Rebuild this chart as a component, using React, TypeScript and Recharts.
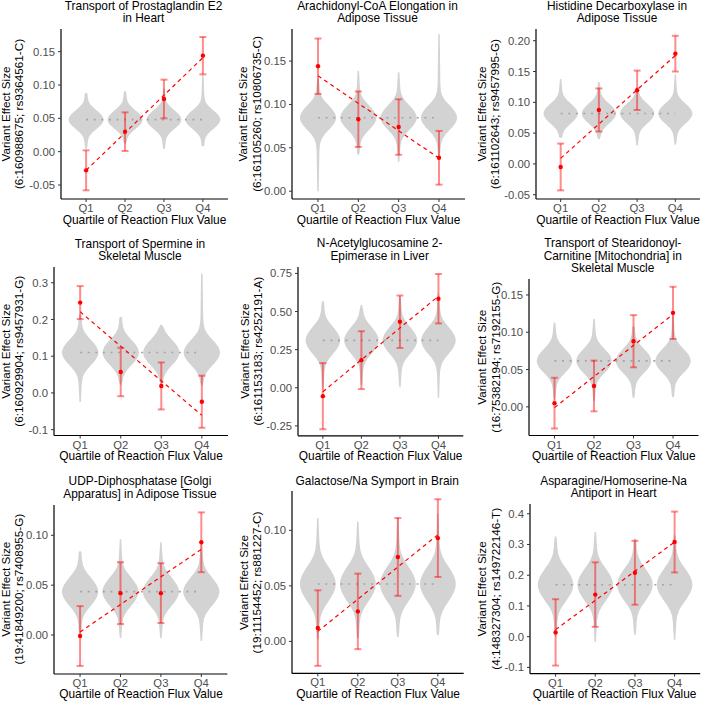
import React from 'react';
import { ComposedChart, Area, Scatter, ErrorBar, XAxis, YAxis, ReferenceLine } from 'recharts';

const FONT = '"Liberation Sans", Arial, Helvetica, sans-serif';

// ---- data ----------------------------------------------------------------

const quartiles = ['Q1', 'Q2', 'Q3', 'Q4'];
const quartilePositions = [1, 2, 3, 4];

const reactionTitles = [
  ['Transport of Prostaglandin E2', 'in Heart'],
  ['Arachidonyl-CoA Elongation in', 'Adipose Tissue'],
  ['Histidine Decarboxylase in', 'Adipose Tissue'],
  ['Transport of Spermine in', 'Skeletal Muscle'],
  ['N-Acetylglucosamine 2-', 'Epimerase in Liver'],
  ['Transport of Stearidonoyl-', 'Carnitine [Mitochondria] in', 'Skeletal Muscle'],
  ['UDP-Diphosphatase [Golgi', 'Apparatus] in Adipose Tissue'],
  ['Galactose/Na Symport in Brain'],
  ['Asparagine/Homoserine-Na', 'Antiport in Heart'],
];

const variantLabels = [
  '(6:160988675; rs9364561-C)',
  '(6:161105260; rs10806735-C)',
  '(6:161102643; rs9457995-G)',
  '(6:160929904; rs9457931-G)',
  '(6:161153183; rs4252191-A)',
  '(16:75382194; rs7192155-G)',
  '(19:41849200; rs7408955-G)',
  '(19:11154452; rs881227-C)',
  '(4:148327304; rs149722146-T)',
];

// estimated variant effect per flux quartile
const effectSizes = [
  [-0.028, 0.03, 0.079, 0.144],
  [0.144, 0.083, 0.074, 0.0385],
  [-0.005, 0.0875, 0.1195, 0.179],
  [0.246, 0.057, 0.019, -0.024],
  [-0.055, 0.181, 0.433, 0.584],
  [0.005, 0.028, 0.088, 0.126],
  [-0.001, 0.042, 0.042, 0.093],
  [0.012, 0.027, 0.076, 0.093],
  [0.014, 0.137, 0.208, 0.308],
];

// half-width of the 95% interval
const ciHalfWidths = [
  [0.03, 0.029, 0.029, 0.028],
  [0.032, 0.032, 0.032, 0.031],
  [0.038, 0.035, 0.032, 0.029],
  [0.045, 0.066, 0.064, 0.071],
  [0.217, 0.19, 0.172, 0.162],
  [0.034, 0.034, 0.035, 0.035],
  [0.03, 0.031, 0.03, 0.03],
  [0.034, 0.034, 0.035, 0.035],
  [0.108, 0.105, 0.104, 0.099],
];

// fitted trend value at Q1 and at Q4
const trendEnds = [
  [-0.028, 0.141],
  [0.133, 0.038],
  [0.009, 0.176],
  [0.221, -0.061],
  [-0.026, 0.601],
  [-0.001, 0.124],
  [0.003, 0.086],
  [0.009, 0.096],
  [0.023, 0.308],
];

// overall effect (dotted level; also the mode of the permutation violins)
const overallEffect = [0.048, 0.0847, 0.0817, 0.11, 0.3105, 0.0616, 0.0435, 0.0517, 0.169];

// distance from the mode to where each violin narrows into its tails
const violinNeck = [0.027, 0.027, 0.031, 0.066, 0.168, 0.031, 0.027, 0.03, 0.1];

const violinMin = [
  [0.004, 0.012, 0.004, 0.008],
  [0.0, 0.042, 0.034, 0.041],
  [0.042, 0.04, 0.03, 0.031],
  [-0.025, 0.022, 0.025, 0.02],
  [0.0, 0.02, 0.004, -0.066],
  [0.01, 0.008, 0.012, 0.013],
  [0.002, -0.003, -0.003, -0.006],
  [0.002, 0.003, 0.004, 0.0055],
  [0.0, -0.017, 0.0065, -0.01],
];

const violinMax = [
  [0.088, 0.091, 0.095, 0.115],
  [0.13, 0.139, 0.137, 0.181],
  [0.138, 0.133, 0.125, 0.145],
  [0.215, 0.207, 0.186, 0.325],
  [0.569, 0.542, 0.6, 0.62],
  [0.113, 0.118, 0.108, 0.125],
  [0.084, 0.096, 0.093, 0.092],
  [0.111, 0.108, 0.112, 0.115],
  [0.326, 0.341, 0.32, 0.33],
];

// violin outline: distance from mode (in neck units) vs relative half-width
const profileDistance = [0, 0.12, 0.25, 0.4, 0.55, 0.7, 0.85, 1.0, 1.2, 1.45];
const profileWidth = [1.0, 0.97, 0.89, 0.74, 0.56, 0.38, 0.24, 0.15, 0.1, 0.075];
const tipWidth = 0.04;

const yDomains = [
  [-0.071, 0.184],
  [-0.009, 0.187],
  [-0.057, 0.219],
  [-0.116, 0.343],
  [-0.315, 0.792],
  [-0.0384, 0.1714],
  [-0.0391, 0.1304],
  [-0.0288, 0.1354],
  [-0.1204, 0.4317],
];

const yTicks = [
  [-0.05, 0, 0.05, 0.1, 0.15],
  [0, 0.05, 0.1, 0.15],
  [-0.05, 0, 0.05, 0.1, 0.15, 0.2],
  [-0.1, 0, 0.1, 0.2, 0.3],
  [-0.25, 0, 0.25, 0.5, 0.75],
  [0, 0.05, 0.1, 0.15],
  [0, 0.05, 0.1],
  [0, 0.05, 0.1],
  [-0.1, 0, 0.1, 0.2, 0.3, 0.4],
];

const yTickLabels = [
  ['-0.05', '0.00', '0.05', '0.10', '0.15'],
  ['0.00', '0.05', '0.10', '0.15'],
  ['-0.05', '0.00', '0.05', '0.10', '0.15', '0.20'],
  ['-0.1', '0.0', '0.1', '0.2', '0.3'],
  ['-0.25', '0.00', '0.25', '0.50', '0.75'],
  ['0.00', '0.05', '0.10', '0.15'],
  ['0.00', '0.05', '0.10'],
  ['0.00', '0.05', '0.10'],
  ['-0.1', '0.0', '0.1', '0.2', '0.3', '0.4'],
];

// ---- layout --------------------------------------------------------------

// plotting region of each panel: [left, top, right, bottom]
const plotBoxes = [
  [61, 29, 228, 199],
  [292, 29, 465, 199],
  [536, 29, 700, 199],
  [54, 267, 228, 435.5],
  [298, 266.7, 463.3, 435.5],
  [529, 279, 698.5, 435.5],
  [54.3, 504.7, 227.7, 673.7],
  [292.3, 491.3, 464, 673.7],
  [529.5, 504, 699.7, 673.7],
];

// horizontal centres of the two y-title lines
const yTitleX = [
  [5.5, 18.7],
  [242.3, 256],
  [481.3, 494.7],
  [5.5, 18.7],
  [244, 257.3],
  [481.3, 495],
  [5.5, 18.5],
  [243.5, 256.8],
  [481.3, 495],
];

const X_DOMAIN = [0.355, 4.645];
const VIOLIN_HALF = 0.45;
const PAD_L = 60;
const PAD_T = 45;
const PAD_R = 5;
const PAD_B = 30;
const Y_AXIS_W = 40;
const X_AXIS_H = 20;

// ---- helpers -------------------------------------------------------------

// one block of rows per violin; each row carries only its own violin's range
function violinRows(p: number) {
  const rows: Record<string, unknown>[] = [];
  quartilePositions.forEach((q, k) => {
    const mode = overallEffect[p];
    const neck = violinNeck[p];
    const lo = violinMin[p][k];
    const hi = violinMax[p][k];
    const outline: [number, number][] = [[lo, tipWidth]];
    for (let j = profileDistance.length - 1; j > 0; j--) {
      const y = mode - profileDistance[j] * neck;
      if (y > lo) outline.push([y, profileWidth[j]]);
    }
    outline.push([mode, profileWidth[0]]);
    for (let j = 1; j < profileDistance.length; j++) {
      const y = mode + profileDistance[j] * neck;
      if (y < hi) outline.push([y, profileWidth[j]]);
    }
    outline.push([hi, tipWidth]);
    outline.forEach(([y, w]) => {
      rows.push({ y, ['v' + k]: [q - w * VIOLIN_HALF, q + w * VIOLIN_HALF] });
    });
  });
  return rows;
}

const EffectDot = (props: any) => {
  if (props.cx == null || props.cy == null) return <g />;
  return <circle cx={props.cx} cy={props.cy} r={2.2} fill="#ff0000" />;
};

function Panel({ p }: { p: number }) {
  const [l, t, r, b] = plotBoxes[p];
  const width = r - l + PAD_L + PAD_R;
  const height = b - t + PAD_T + PAD_B;
  const rows = violinRows(p);
  const estimates = quartilePositions.map((x, k) => ({
    x,
    y: effectSizes[p][k],
    err: ciHalfWidths[p][k],
  }));
  const level = overallEffect[p];
  const [fitStart, fitEnd] = trendEnds[p];

  const tickStyle = { fill: '#4d4d4d', fontSize: 11.3, fontFamily: FONT };
  const axisLineStyle = { stroke: '#000', strokeWidth: 1.2 };
  const tickLineStyle = { stroke: '#333', strokeWidth: 1 };

  return (
    <div style={{ position: 'absolute', left: l - PAD_L, top: t - PAD_T }}>
      <ComposedChart
        width={width}
        height={height}
        data={rows}
        layout="vertical"
        margin={{ top: PAD_T, right: PAD_R, bottom: PAD_B - X_AXIS_H, left: PAD_L - Y_AXIS_W }}
      >
        <XAxis
          type="number"
          dataKey="x"
          domain={X_DOMAIN}
          allowDataOverflow
          ticks={quartilePositions}
          interval={0}
          tickFormatter={(v: number) => quartiles[quartilePositions.indexOf(v)] ?? ''}
          height={X_AXIS_H}
          tickSize={3}
          tickMargin={2}
          tick={tickStyle}
          axisLine={axisLineStyle}
          tickLine={tickLineStyle}
        />
        <YAxis
          type="number"
          dataKey="y"
          reversed
          domain={yDomains[p]}
          allowDataOverflow
          ticks={yTicks[p]}
          interval={0}
          tickFormatter={(v: number) => {
            const j = yTicks[p].findIndex((tv) => Math.abs(tv - v) < 1e-9);
            return j >= 0 ? yTickLabels[p][j] : String(v);
          }}
          width={Y_AXIS_W}
          tickSize={3}
          tickMargin={3}
          tick={tickStyle}
          axisLine={axisLineStyle}
          tickLine={tickLineStyle}
        />
        {quartilePositions.map((q, k) => (
          <Area
            key={q}
            dataKey={'v' + k}
            type="linear"
            fill="#d3d3d3"
            fillOpacity={1}
            stroke="none"
            dot={false}
            activeDot={false}
            isAnimationActive={false}
          />
        ))}
        <ReferenceLine
          segment={[
            { x: quartilePositions[0], y: level },
            { x: quartilePositions[3], y: level },
          ]}
          stroke="#a3a3a3"
          strokeWidth={1.6}
          strokeDasharray="1.9 5.7"
        />
        <ReferenceLine
          segment={[
            { x: quartilePositions[0], y: fitStart },
            { x: quartilePositions[3], y: fitEnd },
          ]}
          stroke="#ff0000"
          strokeWidth={1.2}
          strokeDasharray="4 3.5"
        />
        <Scatter data={estimates} dataKey="y" shape={EffectDot} isAnimationActive={false}>
          <ErrorBar
            dataKey="err"
            direction="y"
            width={3.5}
            stroke="#ff0000"
            strokeOpacity={0.45}
            strokeWidth={2}
          />
        </Scatter>
      </ComposedChart>
    </div>
  );
}

export default function App() {
  return (
    <div
      style={{
        position: 'absolute',
        left: 0,
        top: 0,
        width: 703,
        height: 701,
        background: '#fff',
        overflow: 'hidden',
        fontFamily: FONT,
      }}
    >
      {plotBoxes.map((_, p) => (
        <Panel key={p} p={p} />
      ))}
      <svg
        width={703}
        height={701}
        style={{ position: 'absolute', left: 0, top: 0, pointerEvents: 'none' }}
      >
        {plotBoxes.map(([l, t, r, b], p) => {
          const cx = (l + r) / 2;
          const cy = (t + b) / 2;
          const lines = reactionTitles[p];
          return (
            <g key={p} fontFamily={FONT} fill="#000">
              {lines.map((s, j) => (
                <text
                  key={j}
                  x={cx - 1}
                  y={t - 10.8 - (lines.length - 1 - j) * 12.6}
                  textAnchor="middle"
                  dominantBaseline="central"
                  fontSize={11.9}
                >
                  {s}
                </text>
              ))}
              <text
                x={cx}
                y={b + 20.5}
                textAnchor="middle"
                dominantBaseline="central"
                fontSize={11.9}
              >
                Quartile of Reaction Flux Value
              </text>
              <text
                transform={`translate(${yTitleX[p][0]},${cy}) rotate(-90)`}
                textAnchor="middle"
                dominantBaseline="central"
                fontSize={11.7}
              >
                Variant Effect Size
              </text>
              <text
                transform={`translate(${yTitleX[p][1]},${cy}) rotate(-90)`}
                textAnchor="middle"
                dominantBaseline="central"
                fontSize={11.7}
              >
                {variantLabels[p]}
              </text>
            </g>
          );
        })}
      </svg>
    </div>
  );
}
